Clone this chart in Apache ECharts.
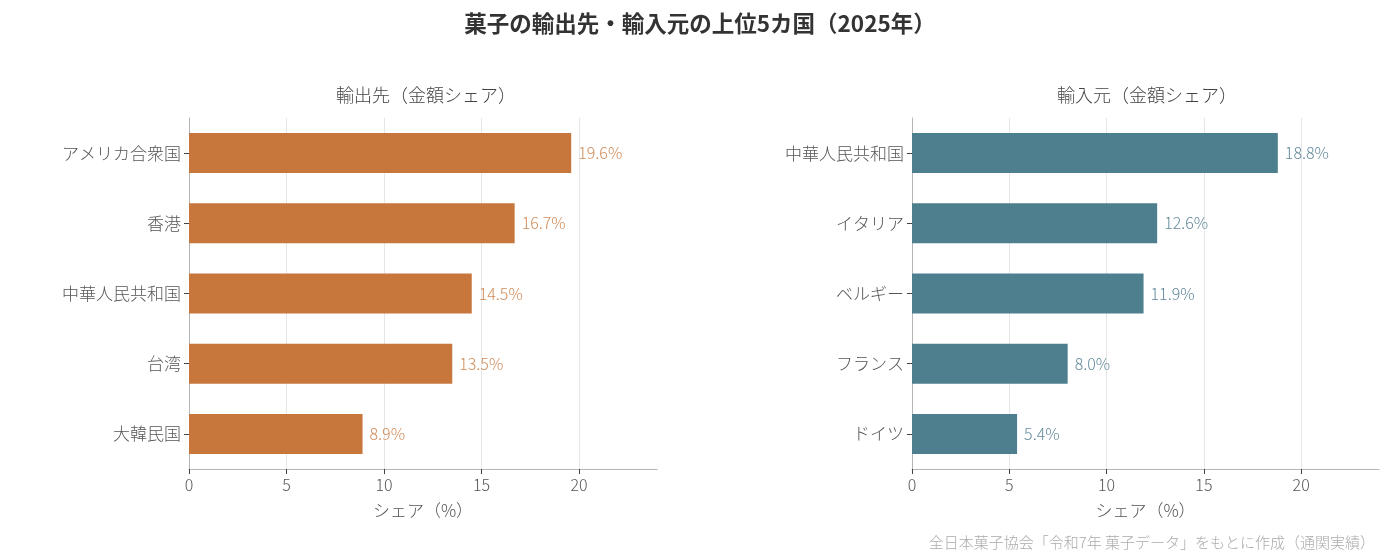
<!DOCTYPE html>
<html>
<head>
<meta charset="utf-8">
<script src="https://cdn.jsdelivr.net/npm/echarts@6/dist/echarts.min.js"></script>
<style>
  html, body { margin: 0; padding: 0; background: #fff; }
  #chart { width: 1400px; height: 560px; }
</style>
</head>
<body>
<div id="chart"></div>
<script>
// 輸出先・輸入元の上位5カ国（金額シェア %）
var exportCountries = ['アメリカ合衆国', '香港', '中華人民共和国', '台湾', '大韓民国'];
var exportShares = [19.6, 16.7, 14.5, 13.5, 8.9];

var importCountries = ['中華人民共和国', 'イタリア', 'ベルギー', 'フランス', 'ドイツ'];
var importShares = [18.8, 12.6, 11.9, 8.0, 5.4];

var xTicks = [0, 5, 10, 15, 20];

var fontJP = '"Noto Sans CJK JP", "Noto Sans", sans-serif';
var exportColor = '#C8773C';
var importColor = '#4D7F8F';

function xAxisFor(idx) {
    return {
        type: 'value',
        gridIndex: idx,
        min: 0,
        max: 24,
        interval: 5,
        name: 'シェア（%）',
        nameLocation: 'middle',
        nameGap: 33,
        nameTextStyle: { color: '#555', fontSize: 17, fontFamily: fontJP, fontWeight: 300 },
        axisLine: { show: true, lineStyle: { color: '#b5b5b5', width: 1 } },
        axisTick: { show: true, length: 5, lineStyle: { color: '#444' } },
        axisLabel: {
            color: '#555', fontSize: 16, fontFamily: fontJP, fontWeight: 300,
            showMaxLabel: false, margin: 8,
            formatter: function (v) { return xTicks.indexOf(v) >= 0 ? v : ''; }
        },
        splitLine: { show: true, showMaxLine: false, lineStyle: { color: '#e6e6e6', width: 1 } }
    };
}

function yAxisFor(idx, cats) {
    return {
        type: 'category',
        gridIndex: idx,
        data: cats,
        inverse: true,
        axisLine: { show: true, lineStyle: { color: '#b5b5b5', width: 1 } },
        axisTick: { show: true, alignWithLabel: true, length: 5, lineStyle: { color: '#444' } },
        axisLabel: { color: '#555', fontSize: 17, fontFamily: fontJP, fontWeight: 300, margin: 8 },
        splitLine: { show: false }
    };
}

function seriesFor(idx, values, color, labelColor) {
    return {
        type: 'bar',
        xAxisIndex: idx,
        yAxisIndex: idx,
        data: values,
        barWidth: 40,
        itemStyle: { color: color },
        label: {
            show: true,
            position: 'right',
            distance: 7,
            color: labelColor,
            fontSize: 16,
            fontFamily: fontJP,
            fontWeight: 300,
            formatter: function (p) { return p.value.toFixed(1) + '%'; }
        },
        silent: true
    };
}

var option = {
    backgroundColor: '#fff',
    animation: false,
    title: [
        {
            text: '菓子の輸出先・輸入元の上位5カ国（2025年）',
            left: 'center', top: 7,
            textStyle: { color: '#333', fontSize: 22.5, fontWeight: 'bold', fontFamily: fontJP }
        },
        {
            text: '輸出先（金額シェア）',
            left: 421, top: 81, textAlign: 'center',
            textStyle: { color: '#444', fontSize: 18, fontWeight: 300, fontFamily: fontJP }
        },
        {
            text: '輸入元（金額シェア）',
            left: 1142, top: 81, textAlign: 'center',
            textStyle: { color: '#444', fontSize: 18, fontWeight: 300, fontFamily: fontJP }
        },
        {
            text: '全日本菓子協会「令和7年 菓子データ」をもとに作成（通関実績）',
            right: 20, top: 530,
            textStyle: { color: '#aaa', fontSize: 15, fontWeight: 300, fontFamily: fontJP }
        }
    ],
    grid: [
        { left: 189, right: 743, top: 118, bottom: 91 },
        { left: 912, right: 21, top: 118, bottom: 91 }
    ],
    xAxis: [xAxisFor(0), xAxisFor(1)],
    yAxis: [yAxisFor(0, exportCountries), yAxisFor(1, importCountries)],
    series: [
        seriesFor(0, exportShares, exportColor, '#D08A57'),
        seriesFor(1, importShares, importColor, '#62899A')
    ]
};

var myChart = echarts.init(document.getElementById('chart'));
myChart.setOption(option);
</script>
</body>
</html>
